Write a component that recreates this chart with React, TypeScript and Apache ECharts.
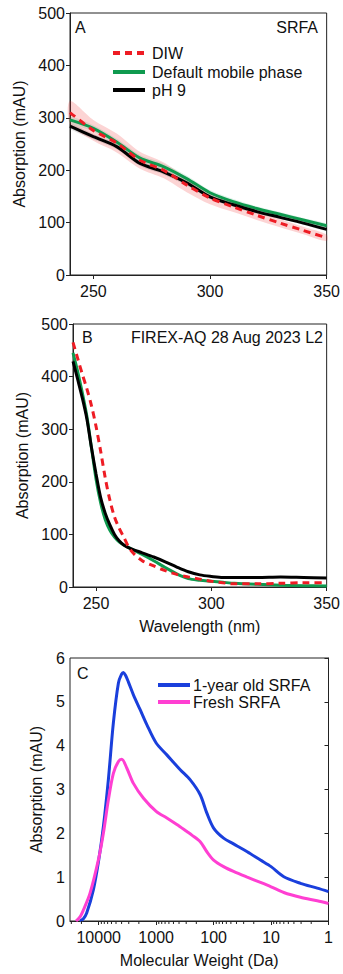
import React, { useEffect, useRef } from 'react';
import * as echarts from 'echarts';

// ---------- Panel A (SRFA) ----------
const wlA = [240, 250, 260, 270, 280, 290, 300, 310, 320, 330, 340, 350];
const diwA = [310, 276, 252, 219, 200, 172, 147, 130, 114, 99, 85, 71];
const defaultA = [296, 280, 254, 223, 207, 184, 157, 140, 127, 116, 105, 94];
const ph9A = [284, 264, 245, 213, 197, 176, 149, 134, 121, 110, 99, 87];
const diwErrA = [22, 20, 18, 16, 15, 14, 12, 10, 9, 8, 7, 6];
const defaultErrA = [6, 6, 6, 6, 6, 6, 5, 5, 4, 4, 4, 4];
const ph9ErrA = [5, 5, 5, 5, 5, 5, 4, 4, 4, 3, 3, 3];

// ---------- Panel B (FIREX-AQ) ----------
const wlB = [240, 242, 244, 246, 248, 250, 252, 254, 256, 258, 260, 262, 265, 270, 275, 280, 285, 290, 295, 300, 305, 310, 320, 330, 340, 350];
const diwB = [465, 435, 405, 377, 345, 305, 258, 207, 165, 133, 112, 95, 70, 50, 40, 31, 24, 19, 15, 11, 8, 6, 6, 7, 8, 8];
const defaultB = [445, 410, 370, 325, 265, 205, 160, 128, 108, 95, 86, 80, 73, 62, 50, 37, 25, 16, 13, 11, 9, 7, 5, 3.5, 2.5, 2];
const ph9B = [429, 395, 360, 320, 265, 215, 170, 140, 118, 100, 88, 80, 73, 65, 57, 48, 38, 29, 23, 20, 18, 18, 18, 19, 18, 17];

// ---------- Panel C (molecular weight) ----------
const mwOld = [21200, 18500, 16200, 12400, 10000, 8300, 6800, 5560, 4540, 4000, 3720, 3400, 3040, 2490, 1900, 1455, 1000, 652, 381, 255, 171, 131, 100, 67, 45, 26, 15.3, 10, 6, 3.08, 1.57, 1];
const oldSRFA = [0, 0.05, 0.18, 0.71, 1.39, 2.15, 3.22, 4.52, 5.43, 5.63, 5.67, 5.6, 5.45, 5.16, 4.82, 4.48, 4.06, 3.79, 3.45, 3.22, 2.88, 2.46, 2.12, 1.89, 1.76, 1.58, 1.39, 1.24, 1.01, 0.86, 0.75, 0.67];
const mwFresh = [24800, 21000, 18500, 14200, 10000, 8300, 6800, 5560, 4540, 3970, 3250, 2490, 1660, 1000, 652, 437, 292, 239, 171, 131, 100, 67, 45, 26, 15.3, 10, 6, 3.08, 1.57, 1];
const freshSRFA = [0, 0.1, 0.25, 0.63, 1.43, 2.0, 2.76, 3.37, 3.64, 3.69, 3.49, 3.14, 2.8, 2.5, 2.35, 2.2, 2.04, 1.96, 1.81, 1.58, 1.39, 1.24, 1.13, 1.0, 0.88, 0.78, 0.65, 0.54, 0.46, 0.4];
const mwMajor = [1, 10, 100, 1000, 10000];

const legendA = ['DIW', 'Default mobile phase', 'pH 9'];
const legendC = ['1-year old SRFA', 'Fresh SRFA'];

const FONT = 'Liberation Sans, Arial, sans-serif';
const AX = '#222';
const TXT = '#111';
const RED = '#ee1c24';
const GREEN = '#0f9a4f';
const BLACK = '#000';
const BLUE = '#1a3fdc';
const PINK = '#ff3fd2';

const zip = (xs: number[], ys: number[]) => xs.map((x, i) => [x, ys[i]]);

function band(xs: number[], ys: number[], err: number[], fill: string) {
  return {
    type: 'custom',
    xAxisIndex: 0,
    yAxisIndex: 0,
    silent: true,
    z: 1,
    data: [[xs[0], ys[0]]],
    renderItem: (_p: any, api: any) => {
      const up = xs.map((x, i) => api.coord([x, ys[i] + err[i]]));
      const lo = xs.map((x, i) => api.coord([x, ys[i] - err[i]])).reverse();
      return {
        type: 'polygon',
        shape: { points: up.concat(lo), smooth: 0.3 },
        style: { fill, stroke: 'none' },
      };
    },
  };
}

function line(name: string, data: number[][], color: string, xi: number, yi: number, dashed = false, width = 3) {
  return {
    type: 'line',
    name,
    xAxisIndex: xi,
    yAxisIndex: yi,
    data,
    smooth: 0.3,
    symbol: 'none',
    z: 3,
    lineStyle: { color, width, type: dashed ? [7, 5] : 'solid' },
    itemStyle: { color },
  };
}

const axisCommon = {
  axisLine: { show: true, lineStyle: { color: AX, width: 1 } },
  axisTick: { show: true, length: 4, lineStyle: { color: AX } },
  splitLine: { show: false },
  axisLabel: { color: TXT, fontSize: 16, fontFamily: FONT },
  nameTextStyle: { color: TXT, fontSize: 16, fontFamily: FONT },
};

function yAx(grid: number, max: number, interval: number, nameGap: number) {
  return {
    ...axisCommon,
    type: 'value',
    gridIndex: grid,
    min: 0,
    max,
    interval,
    name: 'Absorption (mAU)',
    nameLocation: 'middle',
    nameGap,
    nameRotate: 90,
    axisLabel: { ...axisCommon.axisLabel, margin: 5 },
  };
}

function wlAx(grid: number, withName: boolean) {
  return {
    ...axisCommon,
    type: 'value',
    gridIndex: grid,
    min: 240,
    max: 350,
    axisTick: { ...axisCommon.axisTick, customValues: [250, 300, 350] },
    axisLabel: { ...axisCommon.axisLabel, customValues: [250, 300, 350] },
    ...(withName ? { name: 'Wavelength (nm)', nameLocation: 'middle', nameGap: 31 } : {}),
  };
}

const minorLog: number[] = [];
for (let d = 0; d <= 4; d++) {
  for (let k = 2; k <= 9; k++) {
    const v = Math.log10(k * Math.pow(10, d));
    if (v <= 4.5) minorLog.push(v);
  }
}
const majorLog = mwMajor.map((m) => Math.log10(m));

const gridBox = { show: true, borderColor: AX, borderWidth: 1, backgroundColor: 'transparent' };

const txt = (text: string, x: number, y: number, align = 'left') => ({
  type: 'text',
  x,
  y,
  z: 10,
  style: { text, fill: TXT, fontSize: 16, fontFamily: FONT, align, verticalAlign: 'middle' },
});

const legLine = (x: number, y: number, color: string, dashed = false) => ({
  type: 'line',
  z: 10,
  shape: { x1: x, y1: y, x2: x + 32, y2: y },
  style: { stroke: color, lineWidth: 4, lineDash: dashed ? [7, 5] : null },
});

const option: any = {
  animation: false,
  textStyle: { fontFamily: FONT },
  grid: [
    { ...gridBox, left: 70, top: 13, width: 259, height: 262 },
    { ...gridBox, left: 73, top: 324, width: 259.5, height: 263 },
    { ...gridBox, left: 70, top: 658, width: 258.5, height: 263 },
  ],
  xAxis: [
    wlAx(0, false),
    wlAx(1, true),
    {
      ...axisCommon,
      type: 'value',
      gridIndex: 2,
      min: 0,
      max: 4.5,
      inverse: true,
      axisTick: { ...axisCommon.axisTick, customValues: majorLog },
      axisLabel: {
        ...axisCommon.axisLabel,
        customValues: majorLog,
        formatter: (v: number) => String(Math.round(Math.pow(10, v))),
      },
      name: 'Molecular Weight (Da)',
      nameLocation: 'middle',
      nameGap: 31,
    },
  ],
  yAxis: [yAx(0, 500, 100, 40), yAx(1, 500, 100, 39), yAx(2, 6, 1, 26)],
  graphic: [
    txt('A', 75, 27),
    txt('SRFA', 318, 27, 'right'),
    txt('B', 82, 337),
    txt('FIREX-AQ 28 Aug 2023 L2', 323, 337, 'right'),
    txt('C', 77, 673),
    legLine(113, 53, RED, true),
    legLine(113, 72, GREEN),
    legLine(113, 90, BLACK),
    txt(legendA[0], 152, 53),
    txt(legendA[1], 152, 72),
    txt(legendA[2], 152, 90),
    legLine(158, 685, BLUE),
    legLine(158, 702, PINK),
    txt(legendC[0], 193, 685),
    txt(legendC[1], 193, 702),
  ],
  series: [
    band(wlA, diwA, diwErrA, 'rgba(240,40,40,0.2)'),
    band(wlA, defaultA, defaultErrA, 'rgba(20,160,90,0.14)'),
    band(wlA, ph9A, ph9ErrA, 'rgba(0,0,0,0.12)'),
    line(legendA[1], zip(wlA, defaultA), GREEN, 0, 0),
    line(legendA[2], zip(wlA, ph9A), BLACK, 0, 0),
    line(legendA[0], zip(wlA, diwA), RED, 0, 0, true),
    line('B green', zip(wlB, defaultB), GREEN, 1, 1),
    line('B black', zip(wlB, ph9B), BLACK, 1, 1),
    line('B red', zip(wlB, diwB), RED, 1, 1, true),
    line(legendC[0], zip(mwOld.map((m) => Math.log10(m)), oldSRFA), BLUE, 2, 2),
    line(legendC[1], zip(mwFresh.map((m) => Math.log10(m)), freshSRFA), PINK, 2, 2),
    {
      type: 'custom',
      xAxisIndex: 2,
      yAxisIndex: 2,
      silent: true,
      clip: false,
      z: 5,
      data: minorLog.map((v) => [v, 0]),
      renderItem: (_p: any, api: any) => {
        const p = api.coord([api.value(0), 0]);
        return {
          type: 'line',
          shape: { x1: p[0], y1: p[1], x2: p[0], y2: p[1] + 3 },
          style: { stroke: AX, lineWidth: 1 },
        };
      },
    },
  ],
};

export default function App() {
  const ref = useRef<HTMLDivElement>(null);
  useEffect(() => {
    document.body.style.margin = '0';
    const chart = echarts.init(ref.current as HTMLDivElement, null, { renderer: 'svg' });
    chart.setOption(option);
    return () => chart.dispose();
  }, []);
  return <div ref={ref} style={{ width: 343, height: 974 }} />;
}
